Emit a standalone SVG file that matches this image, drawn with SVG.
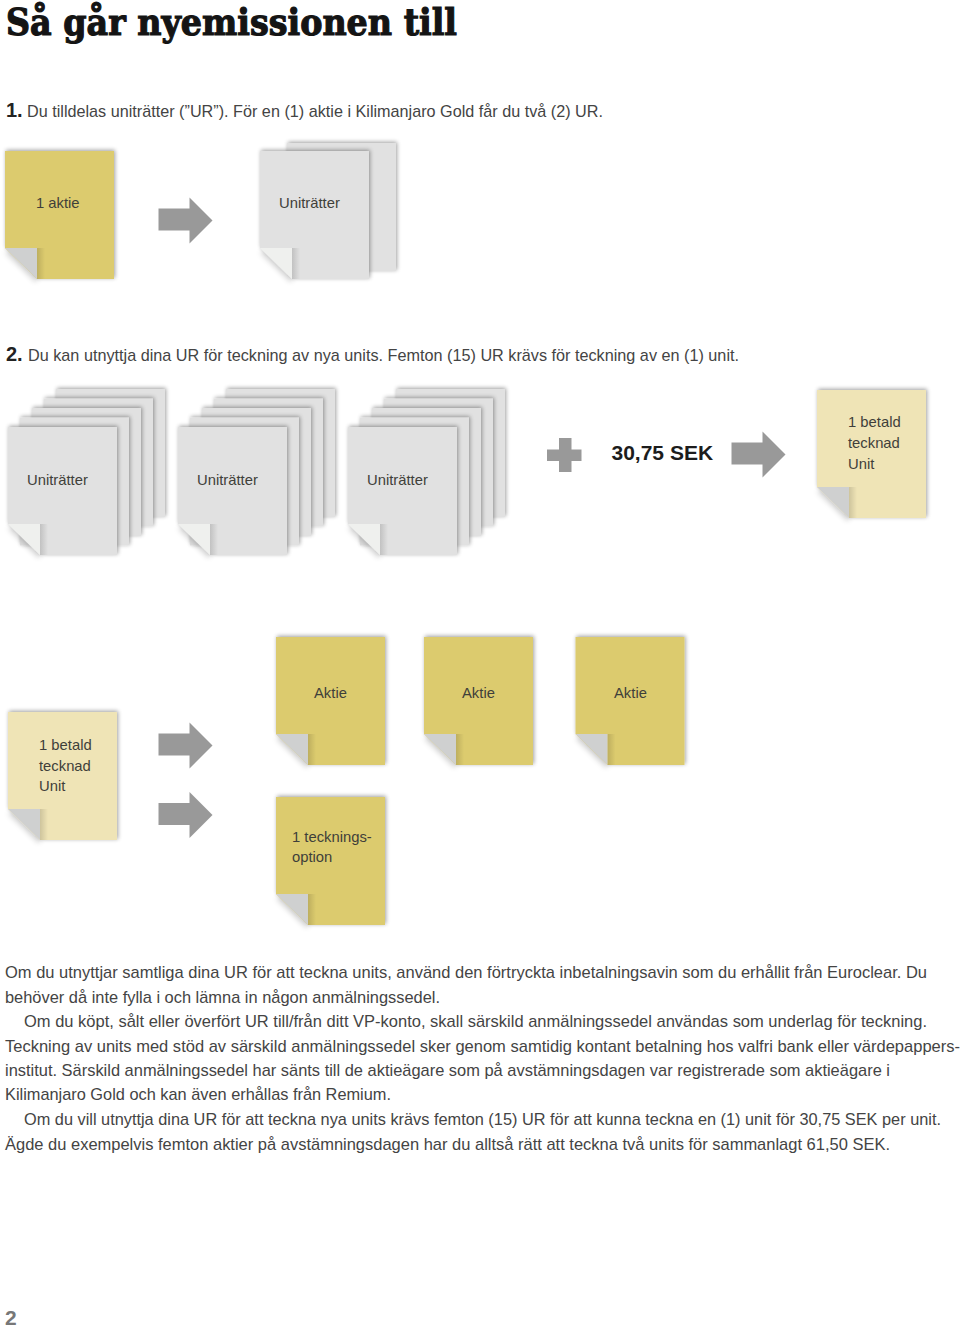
<svg xmlns="http://www.w3.org/2000/svg" xmlns:xlink="http://www.w3.org/1999/xlink" width="960" height="1328" viewBox="0 0 960 1328">
<style>
text{font-family:"Liberation Sans",Arial,sans-serif;font-size:14.8px;fill:#3f3f3a}
.b{font-size:16.2px;fill:#444}
.h{font-family:"DejaVu Serif",serif;font-weight:700;font-size:36.500px;fill:#141414;stroke:#141414;stroke-width:1.2px}
.n{font-weight:700;font-size:20px;fill:#222}
.sek{font-weight:700;font-size:21px;fill:#1c1c1c}
.ar{fill:#999}
.g{fill:#e1e1e1}.gf{fill:#eff0ee}
.y{fill:#dccb6e}.yf{fill:#cfd0d0}
.l{fill:#efe4b6}
</style>
<defs>
<filter id="s" x="-20%" y="-20%" width="140%" height="140%"><feGaussianBlur in="SourceAlpha" stdDeviation="2.2"/><feOffset dx="0.800" dy="-0.800"/><feComponentTransfer><feFuncA type="linear" slope="0.38"/></feComponentTransfer><feMerge><feMergeNode/><feMergeNode in="SourceGraphic"/></feMerge></filter>
<filter id="f" x="-60%" y="-60%" width="220%" height="220%"><feGaussianBlur stdDeviation="2.5"/></filter>
<linearGradient id="fs" x1="0" x2="1" y1="0" y2="0"><stop offset="0" stop-color="#000" stop-opacity=".14"/><stop offset="1" stop-color="#000" stop-opacity="0"/></linearGradient>
<path id="sheet" d="M0 0H109V128H32L0 97Z" filter="url(#s)"/>
<rect id="back" width="109" height="128" filter="url(#s)"/>
<path id="foldshade" d="M0 102L30 131L34 128L4 99Z" fill="#000" fill-opacity=".16" filter="url(#f)"/>
<path id="foldside" d="M32 97H40V128H32Z" fill="url(#fs)"/>
<path id="fold" d="M0 97H32V128Z"/>
<path id="arrow" class="ar" d="M0 11H31V0L54 23L31 46V33H0Z"/>
</defs>
<text class="h" x="6" y="34.500" textLength="451" lengthAdjust="spacingAndGlyphs">Så går nyemissionen till</text>
<text x="6" y="117" class="n">1.</text>
<text class="b" x="27" y="117" textLength="576" lengthAdjust="spacingAndGlyphs">Du tilldelas uniträtter (”UR”). För en (1) aktie i Kilimanjaro Gold får du två (2) UR.</text>
<text x="6" y="361" class="n">2.</text>
<text class="b" x="28" y="361" textLength="711" lengthAdjust="spacingAndGlyphs">Du kan utnyttja dina UR för teckning av nya units. Femton (15) UR krävs för teckning av en (1) unit.</text>

<g id="connectors">
<use xlink:href="#arrow" x="158.500" y="197.500"/>
<use xlink:href="#arrow" x="731.500" y="431.500"/>
<use xlink:href="#arrow" x="158.500" y="722.500"/>
<use xlink:href="#arrow" x="158.500" y="792"/>
<path id="plus" class="ar" d="M559 438H571.500V449.500H581.500V461H571.500V472H559V461H547V449.500H559Z"/>
</g>

<g id="n-aktie"><use xlink:href="#foldshade" x="5" y="151"/><use xlink:href="#sheet" class="y" x="5" y="151"/><use xlink:href="#foldside" x="5" y="151"/><use xlink:href="#fold" class="yf" x="5" y="151"/><text x="36" y="208">1 aktie</text></g>
<g id="n-unit0"><use xlink:href="#back" class="g" x="287" y="143"/><use xlink:href="#foldshade" x="260" y="151"/><use xlink:href="#sheet" class="g" x="260" y="151"/><use xlink:href="#foldside" x="260" y="151"/><use xlink:href="#fold" class="gf" x="260" y="151"/><text x="279" y="208">Uniträtter</text></g>

<g id="n-stack1"><use xlink:href="#back" class="g" x="56" y="389"/><use xlink:href="#back" class="g" x="44" y="398.500"/><use xlink:href="#back" class="g" x="32" y="408"/><use xlink:href="#back" class="g" x="20" y="417.500"/><use xlink:href="#foldshade" x="8" y="427"/><use xlink:href="#sheet" class="g" x="8" y="427"/><use xlink:href="#foldside" x="8" y="427"/><use xlink:href="#fold" class="gf" x="8" y="427"/><text x="27" y="484.500">Uniträtter</text></g>
<g id="n-stack2"><use xlink:href="#back" class="g" x="226" y="389"/><use xlink:href="#back" class="g" x="214" y="398.500"/><use xlink:href="#back" class="g" x="202" y="408"/><use xlink:href="#back" class="g" x="190" y="417.500"/><use xlink:href="#foldshade" x="178" y="427"/><use xlink:href="#sheet" class="g" x="178" y="427"/><use xlink:href="#foldside" x="178" y="427"/><use xlink:href="#fold" class="gf" x="178" y="427"/><text x="197" y="484.500">Uniträtter</text></g>
<g id="n-stack3"><use xlink:href="#back" class="g" x="396" y="389"/><use xlink:href="#back" class="g" x="384" y="398.500"/><use xlink:href="#back" class="g" x="372" y="408"/><use xlink:href="#back" class="g" x="360" y="417.500"/><use xlink:href="#foldshade" x="348" y="427"/><use xlink:href="#sheet" class="g" x="348" y="427"/><use xlink:href="#foldside" x="348" y="427"/><use xlink:href="#fold" class="gf" x="348" y="427"/><text x="367" y="484.500">Uniträtter</text></g>

<g id="n-sek"><text class="sek" x="611.500" y="460">30,75 SEK</text></g>
<g id="n-unit1"><use xlink:href="#foldshade" x="817" y="390"/><use xlink:href="#sheet" class="l" x="817" y="390"/><use xlink:href="#foldside" x="817" y="390"/><use xlink:href="#fold" class="yf" x="817" y="390"/><text x="848" y="427">1 betald</text><text x="848" y="448">tecknad</text><text x="848" y="469">Unit</text></g>
<g id="n-unit2"><use xlink:href="#foldshade" x="8" y="712"/><use xlink:href="#sheet" class="l" x="8" y="712"/><use xlink:href="#foldside" x="8" y="712"/><use xlink:href="#fold" class="yf" x="8" y="712"/><text x="39" y="750">1 betald</text><text x="39" y="771">tecknad</text><text x="39" y="791">Unit</text></g>
<g id="n-a1"><use xlink:href="#foldshade" x="276" y="637"/><use xlink:href="#sheet" class="y" x="276" y="637"/><use xlink:href="#foldside" x="276" y="637"/><use xlink:href="#fold" class="yf" x="276" y="637"/><text x="314" y="698">Aktie</text></g>
<g id="n-a2"><use xlink:href="#foldshade" x="424" y="637"/><use xlink:href="#sheet" class="y" x="424" y="637"/><use xlink:href="#foldside" x="424" y="637"/><use xlink:href="#fold" class="yf" x="424" y="637"/><text x="462" y="698">Aktie</text></g>
<g id="n-a3"><use xlink:href="#foldshade" x="575.500" y="637"/><use xlink:href="#sheet" class="y" x="575.500" y="637"/><use xlink:href="#foldside" x="575.500" y="637"/><use xlink:href="#fold" class="yf" x="575.500" y="637"/><text x="614" y="698">Aktie</text></g>
<g id="n-opt"><use xlink:href="#foldshade" x="276" y="797"/><use xlink:href="#sheet" class="y" x="276" y="797"/><use xlink:href="#foldside" x="276" y="797"/><use xlink:href="#fold" class="yf" x="276" y="797"/><text x="292" y="842">1 tecknings-</text><text x="292" y="862">option</text></g>

<text class="b" x="5" y="978" textLength="922" lengthAdjust="spacingAndGlyphs">Om du utnyttjar samtliga dina UR för att teckna units, använd den förtryckta inbetalningsavin som du erhållit från Euroclear. Du</text>
<text class="b" x="5" y="1003" textLength="435" lengthAdjust="spacingAndGlyphs">behöver då inte fylla i och lämna in någon anmälningssedel.</text>
<text class="b" x="24" y="1027" textLength="903" lengthAdjust="spacingAndGlyphs">Om du köpt, sålt eller överfört UR till/från ditt VP-konto, skall särskild anmälningssedel användas som underlag för teckning.</text>
<text class="b" x="5" y="1052" textLength="955" lengthAdjust="spacingAndGlyphs">Teckning av units med stöd av särskild anmälningssedel sker genom samtidig kontant betalning hos valfri bank eller värdepappers-</text>
<text class="b" x="5" y="1076" textLength="885" lengthAdjust="spacingAndGlyphs">institut. Särskild anmälningssedel har sänts till de aktieägare som på avstämningsdagen var registrerade som aktieägare i</text>
<text class="b" x="5" y="1100" textLength="386" lengthAdjust="spacingAndGlyphs">Kilimanjaro Gold och kan även erhållas från Remium.</text>
<text class="b" x="24" y="1125" textLength="917" lengthAdjust="spacingAndGlyphs">Om du vill utnyttja dina UR för att teckna nya units krävs femton (15) UR för att kunna teckna en (1) unit för 30,75 SEK per unit.</text>
<text class="b" x="5" y="1150" textLength="885" lengthAdjust="spacingAndGlyphs">Ägde du exempelvis femton aktier på avstämningsdagen har du alltså rätt att teckna två units för sammanlagt 61,50 SEK.</text>
<text x="5" y="1325" style="font-weight:700;font-size:21px;fill:#777">2</text>
</svg>
